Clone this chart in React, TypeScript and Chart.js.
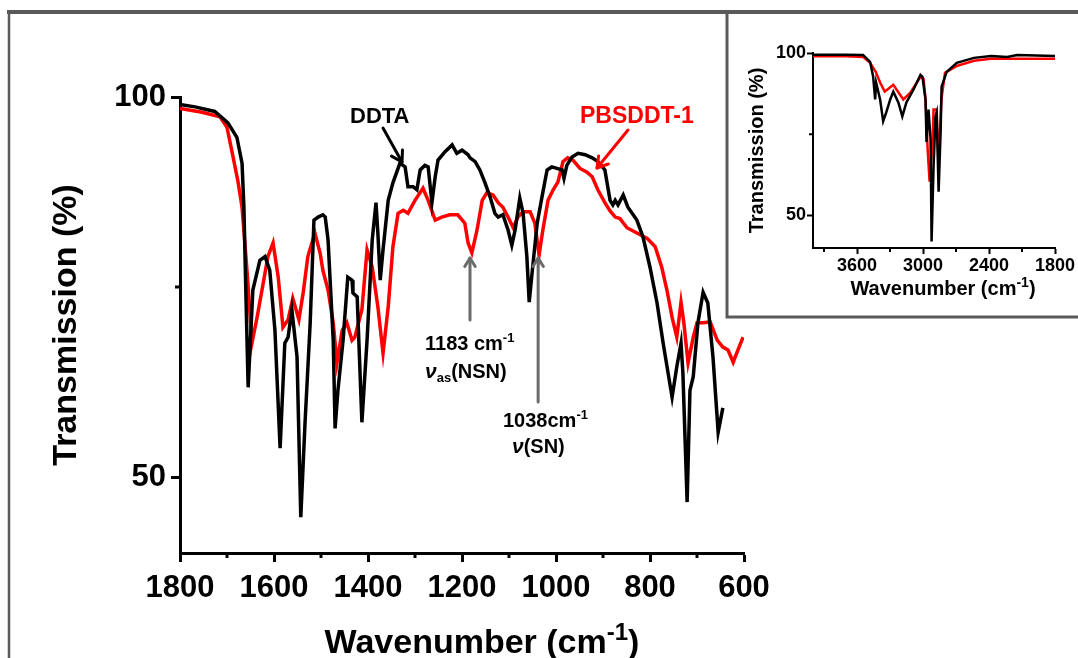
import React, { useEffect, useRef } from 'react';
import { Chart, registerables } from 'chart.js';

Chart.register(...registerables);

const FONT = '"Liberation Sans", Arial, Helvetica, sans-serif';
const W = 1078;
const H = 658;

// ---------- main spectrum (1800-600 cm-1) ----------
const DDTA_WN = [1800, 1768, 1726, 1698, 1679, 1668, 1664, 1660, 1655, 1645, 1630, 1619, 1609, 1598, 1587, 1577, 1570, 1562, 1551, 1543, 1534, 1523, 1515, 1506, 1496, 1491, 1485, 1474, 1470, 1464, 1453, 1443, 1434, 1432, 1423, 1413, 1402, 1391, 1383, 1379, 1374, 1368, 1357, 1347, 1332, 1321, 1315, 1304, 1296, 1289, 1279, 1272, 1264, 1257, 1251, 1236, 1221, 1211, 1200, 1187, 1183, 1172, 1162, 1151, 1140, 1130, 1123, 1113, 1102, 1094, 1087, 1077, 1070, 1062, 1057, 1051, 1040, 1030, 1019, 1009, 998, 987, 983, 977, 966, 953, 938, 923, 911, 896, 885, 879, 874, 868, 857, 847, 828, 815, 800, 785, 772, 753, 743, 734, 730, 721, 715, 708, 698, 687, 677, 666, 655, 645];
const DDTA_T = [99.0, 98.7, 98.1, 96.6, 94.7, 91.3, 85.5, 74.6, 61.8, 74.6, 78.5, 79.0, 77.2, 69.3, 53.8, 67.6, 68.4, 72.0, 65.8, 44.7, 57.1, 70.3, 83.8, 84.2, 84.5, 84.2, 81.2, 68.0, 56.4, 61.4, 68.0, 76.3, 75.9, 74.2, 73.7, 57.2, 68.0, 81.2, 86.1, 82.1, 75.9, 79.9, 86.4, 88.7, 91.3, 90.8, 88.2, 88.2, 87.8, 90.4, 91.0, 90.8, 86.1, 89.5, 91.7, 92.8, 93.7, 92.6, 93.0, 92.4, 92.0, 91.5, 90.4, 88.7, 86.8, 84.7, 84.2, 84.5, 82.5, 80.5, 82.5, 86.7, 84.7, 79.0, 73.0, 76.8, 83.4, 86.8, 90.4, 90.8, 90.6, 90.4, 89.3, 91.0, 92.1, 92.6, 92.4, 92.0, 91.5, 90.4, 86.4, 85.8, 86.4, 85.8, 87.1, 85.5, 83.8, 81.6, 77.6, 72.9, 67.6, 60.5, 64.5, 67.6, 63.7, 46.7, 61.4, 63.2, 70.3, 74.3, 72.9, 65.8, 55.9, 59.1];

const PBS_WN = [1800, 1753, 1715, 1700, 1687, 1677, 1668, 1657, 1647, 1636, 1623, 1613, 1602, 1591, 1581, 1570, 1560, 1547, 1538, 1528, 1513, 1502, 1496, 1485, 1474, 1466, 1455, 1445, 1434, 1428, 1413, 1402, 1391, 1379, 1368, 1357, 1347, 1336, 1325, 1315, 1300, 1283, 1272, 1257, 1243, 1226, 1209, 1194, 1187, 1179, 1168, 1157, 1147, 1134, 1123, 1113, 1102, 1091, 1081, 1070, 1055, 1045, 1036, 1028, 1017, 1006, 996, 985, 975, 964, 949, 934, 923, 911, 896, 885, 874, 864, 849, 828, 806, 789, 775, 764, 753, 743, 734, 728, 719, 708, 700, 687, 672, 657, 645, 634, 623, 613, 602];
const PBS_T = [98.5, 98.0, 97.4, 96.0, 92.1, 89.0, 85.5, 76.8, 67.6, 71.0, 75.5, 79.0, 80.8, 76.3, 69.7, 70.7, 73.5, 70.7, 74.2, 79.0, 82.1, 79.5, 77.2, 74.6, 70.3, 65.0, 69.3, 70.3, 68.0, 68.4, 72.0, 79.9, 77.6, 72.4, 66.3, 72.4, 80.3, 84.7, 85.1, 84.7, 86.4, 88.0, 86.4, 83.8, 84.2, 84.5, 84.5, 83.4, 80.8, 79.5, 82.5, 86.4, 87.4, 87.1, 86.1, 85.5, 84.2, 82.8, 84.2, 84.9, 84.9, 83.4, 79.2, 82.5, 86.4, 87.8, 88.8, 91.5, 92.0, 91.7, 90.6, 90.1, 89.5, 87.8, 86.1, 85.0, 84.2, 84.0, 82.8, 82.1, 81.4, 80.3, 77.6, 74.6, 71.0, 68.4, 73.0, 70.3, 65.0, 68.4, 70.3, 70.3, 70.4, 68.0, 67.1, 66.7, 65.1, 66.7, 68.4];

// ---------- inset spectrum (4000-1800 cm-1) ----------
const INSET_DDTA_WN = [4000, 3700, 3545, 3481, 3453, 3435, 3426, 3390, 3362, 3334, 3298, 3270, 3224, 3188, 3151, 3087, 3023, 3005, 2977, 2968, 2950, 2931, 2922, 2904, 2886, 2876, 2858, 2840, 2831, 2785, 2693, 2537, 2382, 2235, 2144, 1800];
const INSET_DDTA_T = [99.5, 99.5, 99.4, 97.3, 92.7, 85.7, 90.9, 85.7, 79.0, 81.7, 85.7, 88.1, 84.8, 80.5, 84.8, 88.7, 93.3, 92.7, 85.7, 72.6, 82.6, 73.5, 42.0, 65.2, 80.5, 81.7, 57.3, 75.6, 89.6, 94.2, 97.0, 98.5, 99.1, 98.8, 99.4, 99.1];
const INSET_PBS_WN = [4000, 3700, 3545, 3481, 3430, 3390, 3348, 3270, 3179, 3115, 3023, 2995, 2977, 2958, 2940, 2913, 2904, 2876, 2858, 2833, 2800, 2693, 2537, 2382, 1800];
const INSET_PBS_T = [99.0, 99.0, 98.8, 97.0, 94.2, 90.9, 88.1, 90.2, 85.7, 87.8, 92.7, 92.0, 85.7, 70.5, 60.4, 72.6, 82.6, 82.6, 65.0, 85.7, 93.9, 96.0, 97.6, 98.2, 98.2];

// ---------- ticks ----------
const MAIN_X_MAJOR = [1800, 1600, 1400, 1200, 1000, 800, 600];
const MAIN_X_MINOR = [1700, 1500, 1300, 1100, 900, 700];
const MAIN_Y_MAJOR = [100, 50];
const MAIN_Y_MINOR = [75];
const INSET_X_MAJOR = [3600, 3000, 2400, 1800];
const INSET_X_MINOR = [3900, 3300, 2700, 2100];
const INSET_Y_MAJOR = [100, 50];
const INSET_Y_MINOR = [75];

const MARKED_PEAKS = [1183, 1038];

type Seg = { text: string; size: number; dy?: number; italic?: boolean; color?: string };

function pts(xs: number[], ys: number[]) {
  return xs.map((x, i) => ({ x, y: ys[i] }));
}

function richWidth(ctx: CanvasRenderingContext2D, segs: Seg[]) {
  let w = 0;
  for (const s of segs) {
    ctx.font = `${s.italic ? 'italic ' : ''}bold ${s.size}px ${FONT}`;
    w += ctx.measureText(s.text).width;
  }
  return w;
}

function drawRich(ctx: CanvasRenderingContext2D, segs: Seg[], x: number, baseline: number, align: 'left' | 'center', color = '#000') {
  ctx.save();
  ctx.textBaseline = 'alphabetic';
  ctx.textAlign = 'left';
  let cx = align === 'center' ? x - richWidth(ctx, segs) / 2 : x;
  for (const s of segs) {
    ctx.font = `${s.italic ? 'italic ' : ''}bold ${s.size}px ${FONT}`;
    ctx.fillStyle = s.color || color;
    ctx.fillText(s.text, cx, baseline + (s.dy || 0));
    cx += ctx.measureText(s.text).width;
  }
  ctx.restore();
}

function drawArrow(ctx: CanvasRenderingContext2D, x1: number, y1: number, x2: number, y2: number, color: string, width: number, head: number) {
  ctx.save();
  ctx.strokeStyle = color;
  ctx.lineWidth = width;
  ctx.lineCap = 'round';
  ctx.lineJoin = 'round';
  ctx.beginPath();
  ctx.moveTo(x1, y1);
  ctx.lineTo(x2, y2);
  ctx.stroke();
  const ang = Math.atan2(y2 - y1, x2 - x1);
  const a1 = ang + Math.PI - 0.55;
  const a2 = ang + Math.PI + 0.55;
  ctx.beginPath();
  ctx.moveTo(x2 + head * Math.cos(a1), y2 + head * Math.sin(a1));
  ctx.lineTo(x2, y2);
  ctx.lineTo(x2 + head * Math.cos(a2), y2 + head * Math.sin(a2));
  ctx.stroke();
  ctx.restore();
}

function drawMinor(chart: any, xs: number[], ys: number[], len: number, width: number) {
  const ctx: CanvasRenderingContext2D = chart.ctx;
  const { x, y } = chart.scales;
  const area = chart.chartArea;
  ctx.save();
  ctx.strokeStyle = '#000';
  ctx.lineWidth = width;
  xs.forEach((v) => {
    const px = x.getPixelForValue(v);
    ctx.beginPath();
    ctx.moveTo(px, area.bottom);
    ctx.lineTo(px, area.bottom + len);
    ctx.stroke();
  });
  ys.forEach((v) => {
    const py = y.getPixelForValue(v);
    ctx.beginPath();
    ctx.moveTo(area.left - len, py);
    ctx.lineTo(area.left, py);
    ctx.stroke();
  });
  ctx.restore();
}

const mainDecor = {
  id: 'mainDecor',
  afterDraw(chart: any) {
    const ctx: CanvasRenderingContext2D = chart.ctx;
    const { x, y } = chart.scales;
    // frame
    ctx.save();
    ctx.strokeStyle = '#5a5a5a';
    ctx.lineWidth = 4;
    ctx.beginPath();
    ctx.moveTo(7, 12);
    ctx.lineTo(W, 12);
    ctx.stroke();
    ctx.lineWidth = 2.5;
    ctx.beginPath();
    ctx.moveTo(9, 11);
    ctx.lineTo(9, H);
    ctx.stroke();
    ctx.lineWidth = 3;
    ctx.beginPath();
    ctx.moveTo(727, 12);
    ctx.lineTo(727, 317);
    ctx.lineTo(W, 317);
    ctx.stroke();
    ctx.restore();

    drawMinor(chart, MAIN_X_MINOR, MAIN_Y_MINOR, 5, 3);

    // x title
    drawRich(ctx, [
      { text: 'Wavenumber (cm', size: 34 },
      { text: '-1', size: 24, dy: -13 },
      { text: ')', size: 34 },
    ], 482, 653, 'center');

    // labels
    drawRich(ctx, [{ text: 'DDTA', size: 22 }], 350, 123, 'left');
    drawArrow(ctx, 383, 128, 402, 162, '#000', 3, 12);
    drawRich(ctx, [{ text: 'PBSDDT-1', size: 23 }], 580, 123, 'left', '#ff0000');
    drawArrow(ctx, 628, 130, 597, 168, '#ff0000', 3, 12);

    const gx1 = x.getPixelForValue(MARKED_PEAKS[0]);
    const gx2 = x.getPixelForValue(MARKED_PEAKS[1]);
    drawArrow(ctx, gx1, 320, gx1, 258, '#6b6b6b', 3, 10);
    drawArrow(ctx, gx2, 402, gx2, 258, '#6b6b6b', 3, 10);

    drawRich(ctx, [
      { text: '1183 cm', size: 20 },
      { text: '-1', size: 13, dy: -8 },
    ], 425, 350, 'left');
    drawRich(ctx, [
      { text: 'ν', size: 21, italic: true },
      { text: 'as', size: 13, dy: 4 },
      { text: '(NSN)', size: 20 },
    ], 425, 378, 'left');
    drawRich(ctx, [
      { text: '1038cm', size: 20 },
      { text: '-1', size: 13, dy: -8 },
    ], 503, 427, 'left');
    drawRich(ctx, [
      { text: 'ν', size: 21, italic: true },
      { text: '(SN)', size: 20 },
    ], 512, 453, 'left');
    void y;
  },
};

const insetDecor = {
  id: 'insetDecor',
  afterDraw(chart: any) {
    const ctx: CanvasRenderingContext2D = chart.ctx;
    drawMinor(chart, INSET_X_MINOR, INSET_Y_MINOR, 4, 2);
    drawRich(ctx, [
      { text: 'Wavenumber (cm', size: 20 },
      { text: '-1', size: 14, dy: -8 },
      { text: ')', size: 20 },
    ], 943, 295, 'center');
  },
};

function axisOptions(opts: {
  min: number; max: number; reverse?: boolean; major: number[]; size: number;
  tickFont: number; tickLen: number; lineW: number; pad: number; title?: any;
}) {
  return {
    type: 'linear',
    min: opts.min,
    max: opts.max,
    reverse: !!opts.reverse,
    afterBuildTicks: (s: any) => {
      s.ticks = opts.major.map((v) => ({ value: v }));
    },
    afterFit: (s: any) => {
      if (s.isHorizontal()) s.height = opts.size;
      else s.width = opts.size;
    },
    grid: { drawOnChartArea: false, tickLength: opts.tickLen, tickWidth: opts.lineW, tickColor: '#000' },
    border: { display: true, color: '#000', width: opts.lineW },
    ticks: {
      color: '#000',
      font: { family: FONT, size: opts.tickFont, weight: 'bold' },
      padding: opts.pad,
      maxRotation: 0,
      autoSkip: false,
      callback: (v: any) => String(v),
    },
    title: opts.title || { display: false },
  };
}

export default function App() {
  const mainRef = useRef<HTMLCanvasElement | null>(null);
  const insetRef = useRef<HTMLCanvasElement | null>(null);

  useEffect(() => {
    const main = new Chart(mainRef.current as HTMLCanvasElement, {
      type: 'line',
      data: {
        datasets: [
          { label: 'PBSDDT-1', data: pts(PBS_WN, PBS_T), borderColor: '#ff0000', borderWidth: 3.5, pointRadius: 0, tension: 0, order: 2 },
          { label: 'DDTA', data: pts(DDTA_WN, DDTA_T), borderColor: '#000000', borderWidth: 3.5, pointRadius: 0, tension: 0, order: 1 },
        ],
      },
      options: {
        responsive: false,
        animation: false,
        events: [],
        layout: { padding: { left: 0, top: 97, right: W - 744, bottom: 0 } },
        plugins: { legend: { display: false }, tooltip: { enabled: false } },
        scales: {
          x: axisOptions({ min: 600, max: 1800, reverse: true, major: MAIN_X_MAJOR, size: H - 553, tickFont: 31, tickLen: 9, lineW: 3, pad: 8 }),
          y: axisOptions({
            min: 40, max: 100, major: MAIN_Y_MAJOR, size: 180, tickFont: 31, tickLen: 9, lineW: 3, pad: 5,
            title: { display: true, text: 'Transmission (%)', color: '#000', font: { family: FONT, size: 34, weight: 'bold' }, padding: { top: 46, bottom: 0 } },
          }),
        },
      } as any,
      plugins: [mainDecor],
    });

    const inset = new Chart(insetRef.current as HTMLCanvasElement, {
      type: 'line',
      data: {
        datasets: [
          { label: 'PBSDDT-1', data: pts(INSET_PBS_WN, INSET_PBS_T), borderColor: '#ff0000', borderWidth: 2.5, pointRadius: 0, tension: 0, order: 2 },
          { label: 'DDTA', data: pts(INSET_DDTA_WN, INSET_DDTA_T), borderColor: '#000000', borderWidth: 2.5, pointRadius: 0, tension: 0, order: 1 },
        ],
      },
      options: {
        responsive: false,
        animation: false,
        events: [],
        layout: { padding: { left: 729, top: 53, right: W - 1055, bottom: 0 } },
        plugins: { legend: { display: false }, tooltip: { enabled: false } },
        scales: {
          x: axisOptions({ min: 1800, max: 4000, reverse: true, major: INSET_X_MAJOR, size: H - 248, tickFont: 18, tickLen: 6, lineW: 2, pad: 1 }),
          y: axisOptions({
            min: 40, max: 100, major: INSET_Y_MAJOR, size: 813 - 729, tickFont: 18, tickLen: 6, lineW: 2, pad: 1,
            title: { display: true, text: 'Transmission (%)', color: '#000', font: { family: FONT, size: 20, weight: 'bold' }, padding: { top: 16, bottom: 0 } },
          }),
        },
      } as any,
      plugins: [insetDecor],
    });

    return () => {
      main.destroy();
      inset.destroy();
    };
  }, []);

  return (
    <div style={{ position: 'fixed', left: 0, top: 0, width: W, height: H, background: '#fff', overflow: 'hidden' }}>
      <canvas ref={mainRef} width={W} height={H} style={{ position: 'absolute', left: 0, top: 0 }} />
      <canvas ref={insetRef} width={W} height={H} style={{ position: 'absolute', left: 0, top: 0 }} />
    </div>
  );
}
